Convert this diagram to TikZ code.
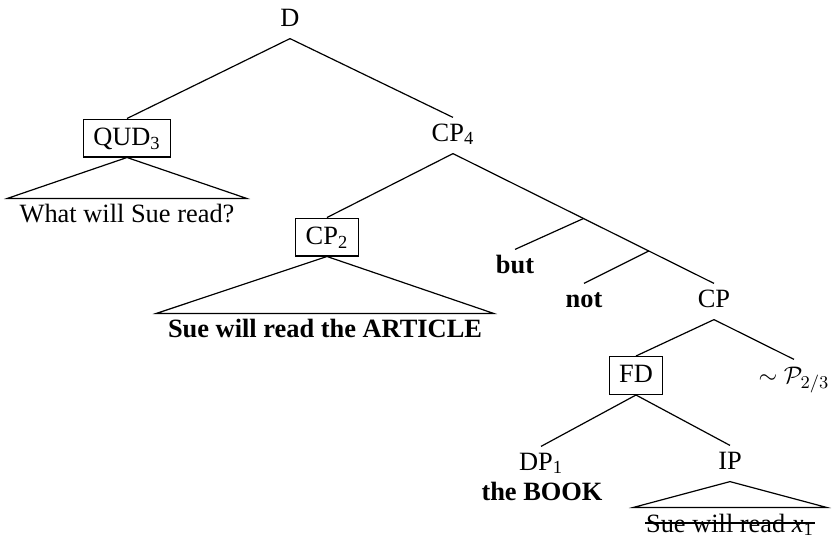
\documentclass[tikz,border=0pt]{standalone}
\usepackage{fontspec}
\setmainfont{Liberation Serif}
\begin{document}
\begin{tikzpicture}[x=0.5pt,y=-0.5pt, line width=0.6pt,
  font=\fontsize{13.2}{16}\selectfont,
  lab/.style={inner sep=0pt, text height=11.5pt, text depth=6pt, anchor=base},
  boxed/.style={draw, line width=0.6pt, inner xsep=5pt, inner ysep=4.3pt, text height=8.8pt, text depth=1.5pt},
  leaf/.style={inner sep=0pt, anchor=base, text height=11.5pt, text depth=0pt}]
\useasboundingbox (0,0) rectangle (832,537);
% nodes
\node[lab] (D) at (290,26) {D};
\node[boxed] (QUD) at (127,138) {QUD\textsubscript{3}};
\node[leaf, minimum width=119pt] (what) at (127,222) {What will Sue read?};
\node[lab] (CP4) at (453,141) {CP\textsubscript{4}};
\node[boxed] (CP2) at (327,237) {CP\textsubscript{2}};
\node[leaf, minimum width=168pt] (art) at (325,337) {\bfseries Sue will read the ARTICLE};
\node[lab] (but) at (515,273) {\bfseries but};
\node[lab] (not) at (584,307) {\bfseries not};
\node[lab] (CP) at (714,307) {CP};
\node[boxed] (FD) at (636,375.5) {FD};
\node[lab] (P) at (794,383) {$\sim\mathcal{P}_{2/3}$};
\node[lab] (DP) at (541,470) {DP\textsubscript{1}};
\node[lab] (book) at (542,500) {\bfseries the BOOK};
\node[lab] (IP) at (730,469) {IP};
\node[leaf, text height=12pt] (sue) at (730,532) {Sue will read \textit{x}\textsubscript{1}};
% connectors
\draw (D.south) -- (QUD.north);
\draw (D.south) -- (CP4.south |- CP4.north);
\draw (QUD.south) -- (what.north west) -- (what.north east) -- cycle;
\draw (CP4.south) -- (CP2.north);
\draw (CP2.south) -- (art.north west) -- (art.north east) -- cycle;
\draw (CP4.south) -- (CP.north) coordinate[pos=0.5] (j1) coordinate[pos=0.75] (j2);
\draw (j1) -- (but.north);
\draw (j2) -- (not.north);
\draw (CP.south) -- (FD.north);
\draw (CP.south) -- (P.north);
\draw (FD.south) -- (DP.north);
\draw (FD.south) -- (IP.north);
\draw (IP.south) -- ([xshift=-6pt]sue.north west) -- ([xshift=6pt]sue.north east) -- cycle;
\draw ([yshift=4.5pt]sue.base west) -- ([yshift=4.5pt]sue.base east);
\end{tikzpicture}
\end{document}
